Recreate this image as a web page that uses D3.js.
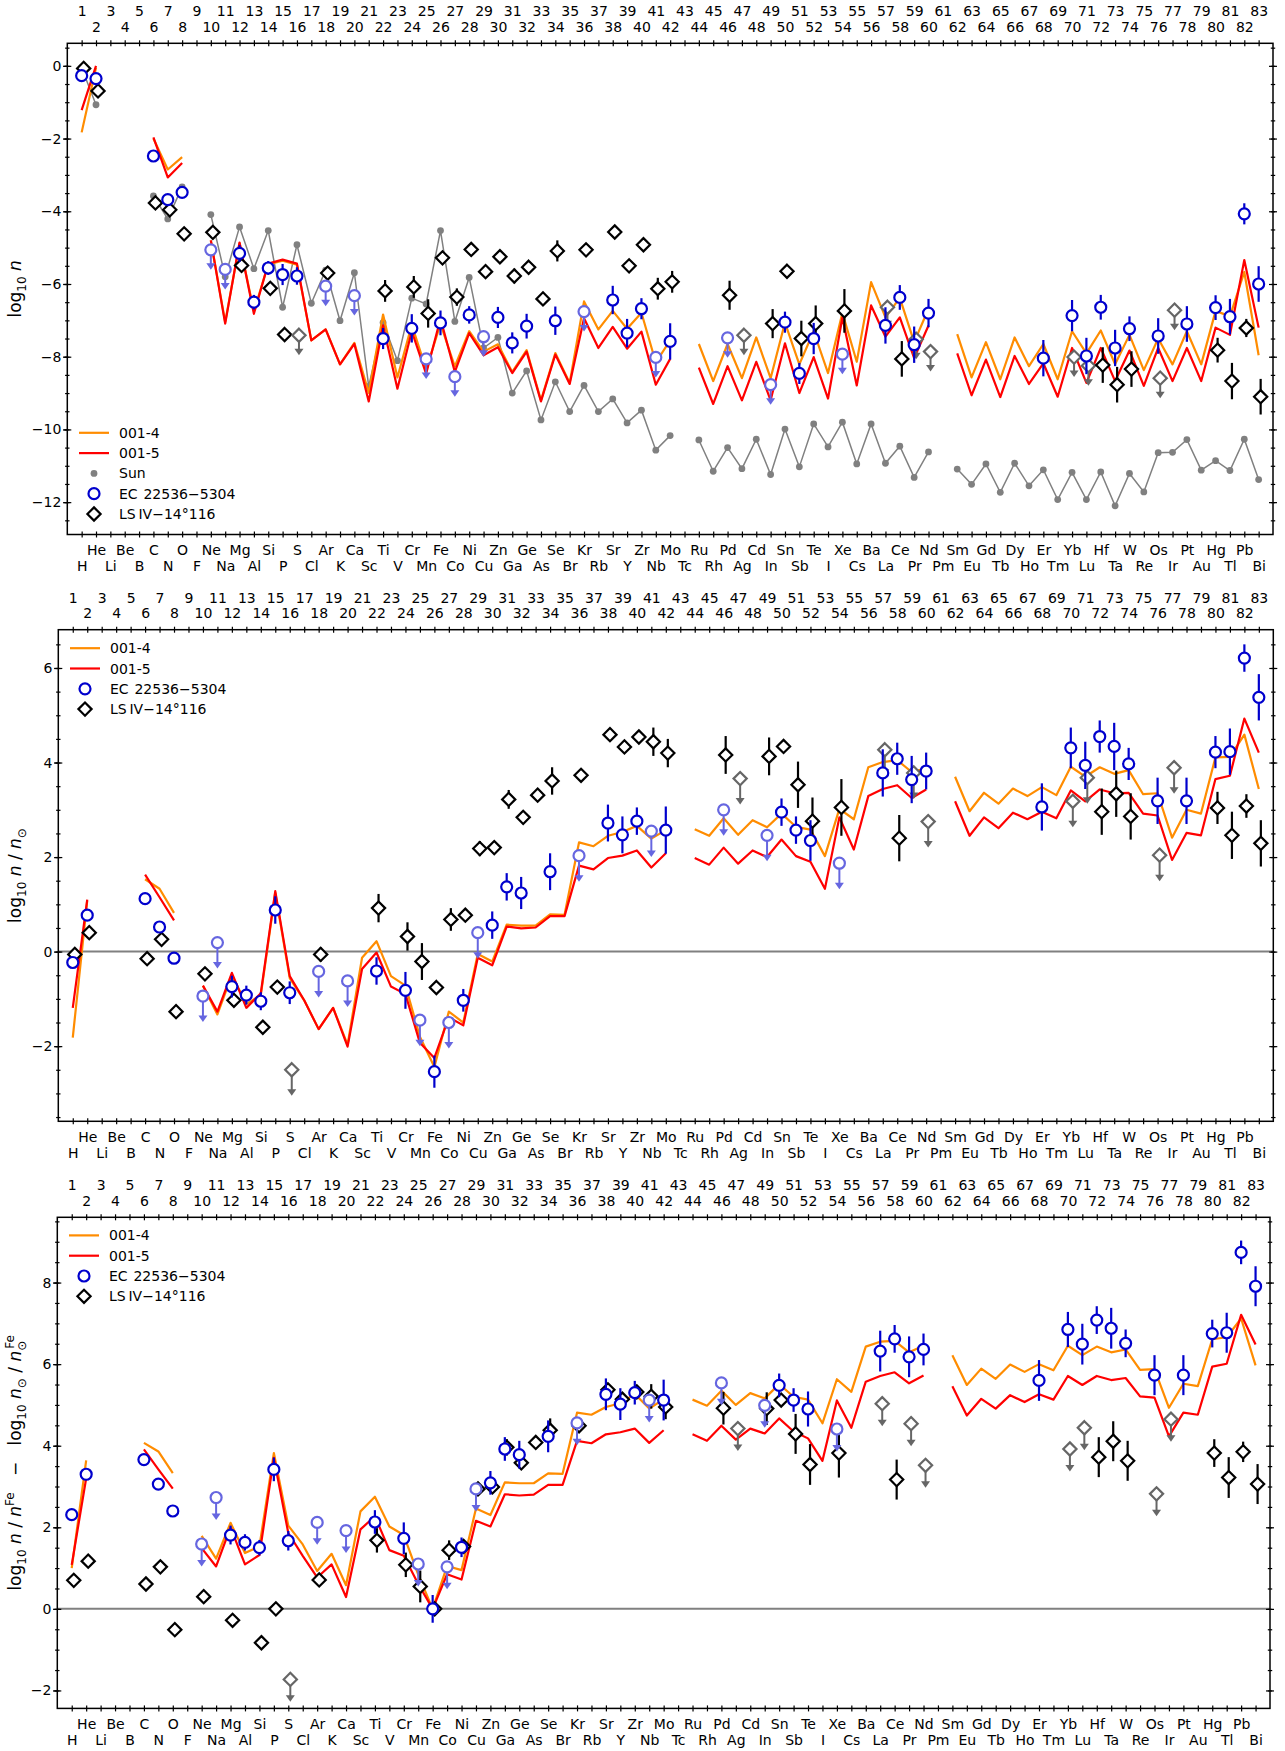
<!DOCTYPE html>
<html>
<head>
<meta charset="utf-8">
<script src="https://cdn.jsdelivr.net/npm/d3@7"></script>
<style>
body{margin:0;background:#fff;}
svg text{font-family:"DejaVu Sans",sans-serif;font-size:14px;fill:#000;}
</style>
</head>
<body>
<svg id="chart" width="1285" height="1751"></svg>
<script>
// element symbols, index = Z-1
const symbols = ["H","He","Li","Be","B","C","N","O","F","Ne","Na","Mg","Al","Si","P","S","Cl","Ar","K","Ca",
  "Sc","Ti","V","Cr","Mn","Fe","Co","Ni","Cu","Zn","Ga","Ge","As","Se","Br","Kr","Rb","Sr","Y","Zr",
  "Nb","Mo","Tc","Ru","Rh","Pd","Ag","Cd","In","Sn","Sb","Te","I","Xe","Cs","Ba","La","Ce","Pr","Nd",
  "Pm","Sm","Eu","Gd","Tb","Dy","Ho","Er","Tm","Yb","Lu","Hf","Ta","W","Re","Os","Ir","Pt","Au","Hg",
  "Tl","Pb","Bi"];

// top panel: log10 n
const sunLog = [-0.05,-1.07,null,null,null,-3.58,-4.21,-3.33,null,-4.09,
  -5.80,-4.43,-5.58,-4.53,-6.64,-4.92,-6.53,-5.62,-7.01,-5.69,
  -8.82,-7.06,-8.11,-6.39,-6.55,-4.53,-7.03,-5.82,-7.76,-7.47,
  -9.00,-8.39,-9.74,-8.69,-9.51,-8.79,-9.51,-9.16,-9.82,-9.47,
  -10.57,-10.17,null,-10.29,-11.15,-10.50,-11.08,-10.27,-11.24,-9.99,
  -11.03,-9.85,-10.48,-9.80,-10.95,-9.85,-10.93,-10.46,-11.32,-10.62,
  null,-11.09,-11.51,-10.95,-11.73,-10.93,-11.55,-11.11,-11.93,-11.18,
  -11.93,-11.17,-12.10,-11.21,-11.72,-10.64,-10.63,-10.28,-11.12,-10.86,
  -11.13,-10.27,-11.38];
const model4Log = [-1.83,-0.05,null,null,null,-2.00,-2.85,-2.51,null,-4.80,
  -7.05,-4.88,-6.75,-5.46,-5.36,-5.47,-7.55,-7.25,-8.21,-7.62,
  -9.00,-6.84,-8.57,-7.12,-8.35,-7.10,-8.27,-7.30,-7.86,-7.66,
  -8.42,-7.82,-9.20,-7.90,-8.72,-6.48,-7.25,-6.74,-7.23,-6.79,
  -8.16,-7.55,null,-7.65,-8.67,-7.65,-8.59,-7.47,-8.59,-7.06,
  -8.21,-7.30,-8.45,-6.79,-8.14,-5.95,-6.92,-6.38,-7.60,-6.68,
  null,-7.38,-8.57,-7.60,-8.62,-7.47,-8.26,-7.65,-8.62,-7.30,
  -7.91,-7.28,-8.21,-7.40,-8.37,-7.50,-8.21,-7.30,-8.21,-6.74,
  -6.89,-5.67,-7.96];
const model5Log = [-1.22,0.00,null,null,null,-1.97,-3.07,-2.67,null,-4.80,
  -7.09,-4.86,-6.82,-5.44,-5.33,-5.44,-7.55,-7.25,-8.21,-7.65,
  -9.23,-7.14,-8.88,-7.30,-8.47,-6.95,-8.42,-7.35,-7.96,-7.74,
  -8.45,-7.86,-9.23,-7.94,-8.75,-6.94,-7.76,-7.18,-7.78,-7.31,
  -8.77,-8.06,null,-8.30,-9.30,-8.26,-9.20,-8.14,-9.20,-7.63,
  -9.00,-8.01,-9.15,-6.92,-8.79,-6.59,-7.45,-6.92,-8.04,-7.14,
  null,-7.91,-9.06,-8.08,-9.11,-7.98,-8.75,-8.18,-9.10,-7.76,
  -8.72,-7.76,-8.67,-7.83,-8.80,-7.76,-8.67,-7.76,-8.67,-7.20,
  -7.40,-5.34,-7.20];

// middle panel: log10 n / n_sun
const model4Rel = [-1.82,1.08,null,null,null,1.53,1.33,0.82,null,-0.72,
  -1.33,-0.50,-1.11,-0.92,1.24,-0.56,-1.03,-1.64,-1.19,-1.97,
  -0.13,0.22,-0.52,-0.72,-1.80,-2.44,-1.27,-1.50,-0.05,-0.21,
  0.57,0.55,0.55,0.79,0.78,2.31,2.23,2.45,2.53,2.66,
  2.39,2.57,null,2.59,2.45,2.82,2.47,2.78,2.63,2.92,
  2.64,2.58,2.02,3.02,2.80,3.90,4.01,4.05,3.80,3.88,
  null,3.70,2.97,3.36,3.13,3.45,3.29,3.48,3.31,3.91,
  3.70,3.90,3.76,3.84,3.33,3.35,2.41,3.00,2.92,4.11,
  4.12,4.59,3.44];
const model5Rel = [-1.19,1.10,null,null,null,1.63,1.15,0.66,null,-0.72,
  -1.27,-0.45,-1.19,-0.88,1.28,-0.52,-1.03,-1.64,-1.19,-2.01,
  -0.37,-0.02,-0.74,-0.90,-1.93,-2.25,-1.39,-1.56,-0.13,-0.29,
  0.53,0.49,0.51,0.75,0.75,1.82,1.74,1.98,2.03,2.14,
  1.78,2.08,null,1.98,1.84,2.20,1.86,2.14,2.00,2.37,
  2.02,1.90,1.33,2.84,2.16,3.29,3.44,3.52,3.25,3.43,
  null,3.18,2.45,2.84,2.61,2.94,2.80,2.96,2.82,3.41,
  3.18,3.43,3.35,3.36,2.92,2.88,1.94,2.51,2.46,3.65,
  3.72,4.93,4.21];

// bottom panel: relative to Fe
const model4Fe = [1.00,3.64,null,null,null,4.07,3.86,3.33,null,1.79,
  1.23,2.11,1.37,1.53,3.82,2.04,1.58,0.93,1.35,0.58,
  2.39,2.75,2.02,1.81,0.84,0.00,1.05,0.95,2.46,2.30,
  3.10,3.08,3.08,3.32,3.31,4.81,4.76,4.95,5.04,5.27,
  4.91,5.14,null,5.13,4.98,5.35,5.00,5.29,5.16,5.51,
  5.20,5.13,4.55,5.63,5.32,6.43,6.55,6.57,6.29,6.45,
  null,6.22,5.49,5.89,5.64,5.99,5.81,6.00,5.85,6.45,
  6.22,6.43,6.29,6.36,5.86,5.88,4.93,5.52,5.46,6.61,
  6.66,7.12,5.97];
const model5Fe = [1.08,3.20,null,null,null,3.91,3.42,2.95,null,1.49,
  1.04,2.00,1.09,1.32,3.70,1.86,1.30,0.77,1.09,0.29,
  1.95,2.27,1.44,1.30,0.61,0.00,0.85,0.72,2.16,2.02,
  2.81,2.78,2.80,3.04,3.04,4.12,4.06,4.28,4.33,4.42,
  4.07,4.38,null,4.28,4.12,4.49,4.15,4.42,4.30,4.67,
  4.35,4.18,3.63,5.11,4.44,5.57,5.71,5.80,5.53,5.72,
  null,5.46,4.74,5.15,4.91,5.24,5.07,5.26,5.13,5.71,
  5.49,5.71,5.61,5.66,5.21,5.18,4.23,4.81,4.76,5.94,
  6.01,7.21,6.48];

// EC 22536-5304
const ecZ = [1,2,6,7,8,10,11,12,13,14, 15,16,18,20,22,24,25,26,27,28,
  29,30,31,32,34,36,38,39,40,41, 42,46,49,50,51,52,54,57,58,59,
  60,68,70,71,72,73,74,76,78,80, 81,82,83];
const ecLog = [-0.27,-0.35,-2.48,-3.68,-3.48,-5.06,-5.60,-5.16,-6.50,-5.56,
  -5.74,-5.78,-6.06,-6.32,-7.50,-7.22,-8.06,-7.07,-8.55,-6.85,
  -7.45,-6.92,-7.62,-7.16,-7.01,-6.76,-6.44,-7.35,-6.68,-8.02,
  -7.58,-7.48,-8.77,-7.05,-8.46,-7.50,-7.93,-7.14,-6.37,-7.67,
  -6.80,-8.04,-6.87,-7.98,-6.64,-7.76,-7.23,-7.43,-7.10,-6.65,
  -6.90,-4.07,-6.00];
const ecRel = [-0.23,0.77,1.12,0.52,-0.14,-0.94,0.19,-0.74,-0.92,-1.05,
  0.88,-0.87,-0.42,-0.62,-0.41,-0.82,-1.45,-2.54,-1.50,-1.03,
  0.40,0.56,1.37,1.24,1.69,2.03,2.72,2.47,2.76,2.55,
  2.57,3.00,2.46,2.95,2.57,2.35,1.87,3.78,4.08,3.64,
  3.82,3.06,4.31,3.94,4.55,4.34,3.97,3.19,3.19,4.22,
  4.23,6.21,5.38];
const ecFe = [2.31,3.30,3.66,3.06,2.40,1.59,2.73,1.81,1.63,1.50,
  3.42,1.67,2.12,1.92,2.13,1.73,1.10,0.00,1.03,1.51,
  2.94,3.09,3.92,3.78,4.23,4.56,5.26,5.02,5.30,5.12,
  5.12,5.54,4.99,5.48,5.12,4.90,4.41,6.32,6.62,6.18,
  6.36,5.60,6.85,6.49,7.08,6.88,6.51,5.73,5.73,6.75,
  6.77,8.74,7.91];
const ecErr = [0,0,0,0,0,0,0,0.23,0.2,0.19,
  0.29,0.24,0,0,0.29,0.39,0,0.34,0,0.24,
  0,0.29,0.29,0.34,0.39,0,0.39,0.39,0.29,0,
  0.5,0,0,0.29,0.29,0.43,0,0.5,0.34,0.5,
  0.39,0.5,0.43,0.5,0.34,0.5,0.34,0.49,0.49,0.34,
  0.49,0.29,0.49];
const ecUpper = [10,11,18,20,25,27,29,36,41,46,49,54];

// LS IV-14 116
const lsZ = [1,2,6,7,8,10,12,14,15,16, 18,22,24,25,26,27,28,29,30,31,
  32,33,34,36,38,39,40,41,42,46, 47,49,50,51,52,54,57,58,59,60,
  70,71,72,73,74,76,77,80,81,82, 83];
const lsLog = [-0.07,-0.69,-3.77,-3.96,-4.62,-4.58,-5.49,-6.12,-7.39,-7.41,
  -5.70,-6.19,-6.08,-6.81,-5.28,-6.36,-5.05,-5.66,-5.25,-5.78,
  -5.54,-6.41,-5.09,-5.06,-4.57,-5.50,-4.92,-6.13,-5.94,-6.31,
  -7.41,-7.09,-5.65,-7.50,-7.09,-6.74,-6.64,-8.06,-7.52,-7.86,
  -8.01,-8.25,-8.23,-8.77,-8.34,-8.59,-6.72,-7.82,-8.67,-7.21,
  -9.10];
const lsRel = [-0.06,0.40,-0.15,0.26,-1.27,-0.47,-1.03,-1.60,-0.75,-2.50,
  -0.06,0.92,0.32,-0.21,-0.76,0.68,0.77,2.18,2.20,3.22,
  2.84,3.31,3.61,3.73,4.59,4.33,4.54,4.44,4.20,4.16,
  3.66,4.13,4.34,3.53,2.76,3.05,4.27,2.40,3.78,2.75,
  3.18,3.68,2.96,3.34,2.86,2.04,3.89,3.04,2.46,3.08,
  2.29];
const lsFe = [0.70,1.17,0.61,1.03,-0.51,0.30,-0.28,-0.83,0.00,-1.73,
  0.71,1.68,1.08,0.55,0.00,1.44,1.53,2.94,2.99,3.96,
  3.58,4.08,4.38,4.49,5.37,5.14,5.32,5.21,4.95,4.92,
  4.42,4.91,5.12,4.29,3.54,3.82,5.03,3.17,4.54,3.52,
  3.92,4.44,3.72,4.11,3.63,2.82,4.65,3.82,3.22,3.85,
  3.06];
const lsErr = [0,0,0,0,0,0,0,0,0,0,
  0.15,0.3,0.3,0.39,0,0.24,0,0.16,0,0.2,
  0,0,0.29,0,0.12,0,0,0.3,0.3,0.4,
  0,0.4,0,0.49,0.5,0.6,0,0.49,0,0,
  0,0,0.49,0.49,0.49,0,0,0.34,0.5,0.25,
  0.49];
const lsUpper = [16,47,57,59,60,70,71,76,77];

const yTicksLog = [-12,-10,-8,-6,-4,-2,0];
const yTicksRel = [-2,0,2,4,6];
const yTicksFe = [-2,0,2,4,6,8];

const zs = d3.range(1, 84);
const ORANGE = "#ff8c00", RED = "#ff0000", BLUE = "#0000cd", BLUE_UP = "#6666e0", GREY_UP = "#666666";
const circlePath = d3.symbol(d3.symbolCircle).size(Math.PI * 5.5 * 5.5)();
const diamondPath = "M0,-6.6L6.6,0L0,6.6L-6.6,0Z";

const addModel = (g, x, y, vals, colour) => {
	let line = d3.line()
		.defined((d) => d.v !== null)
		.x((d) => x(d.z)).y((d) => y(d.v));
	g.append("path")
		.datum(zs.map((z) => ({z: z, v: vals[z - 1]})))
		.attr("d", line)
		.attr("fill", "none").attr("stroke", colour)
		.attr("stroke-width", 2.2).attr("stroke-linejoin", "round");
}

const addSun = (g, x, y) => {
	let data = zs.map((z) => ({z: z, v: sunLog[z - 1]}));
	let line = d3.line().defined((d) => d.v !== null).x((d) => x(d.z)).y((d) => y(d.v));
	g.append("path").datum(data).attr("d", line)
		.attr("fill", "none").attr("stroke", "#808080").attr("stroke-width", 1.5);
	g.append("g").selectAll("circle")
		.data(data.filter((d) => d.v !== null))
		.join("circle")
			.attr("cx", (d) => x(d.z)).attr("cy", (d) => y(d.v))
			.attr("r", 3.4).attr("fill", "#808080");
}

const addStars = (g, x, y, zList, vals, errs, upper, o) => {
	let data = zList.map((z, i) => ({z: z, v: vals[i], e: errs[i], up: upper.includes(z)}));
	let cx = (d) => x(d.z + o.shift);
	let layer = g.append("g");
	layer.append("g").selectAll("line")
		.data(data.filter((d) => !d.up && d.e > 0))
		.join("line")
			.attr("x1", cx).attr("x2", cx)
			.attr("y1", (d) => y(d.v + d.e)).attr("y2", (d) => y(d.v - d.e))
			.attr("stroke", o.colour).attr("stroke-width", 2.2);
	let ups = data.filter((d) => d.up);
	layer.append("g").selectAll("line")
		.data(ups)
		.join("line")
			.attr("x1", cx).attr("x2", cx)
			.attr("y1", (d) => y(d.v)).attr("y2", (d) => y(d.v - 0.55) - 4)
			.attr("stroke", o.upColour).attr("stroke-width", 2);
	layer.append("g").selectAll("path")
		.data(ups)
		.join("path")
			.attr("d", (d) => {
				let tx = cx(d), ty = y(d.v - 0.55);
				return `M${tx - 4.5},${ty - 6.5}L${tx + 4.5},${ty - 6.5}L${tx},${ty}Z`;
			})
			.attr("fill", o.upColour);
	layer.append("g").selectAll("path")
		.data(data)
		.join("path")
			.attr("transform", (d) => `translate(${cx(d)},${y(d.v)})`)
			.attr("d", o.shape)
			.attr("fill", "white")
			.attr("stroke", (d) => d.up ? o.upColour : o.colour)
			.attr("stroke-width", 2.2);
}

const tidy = (sel) => {
	sel.select(".domain").remove();
	sel.selectAll("line").attr("stroke-width", 1.2);
}

const addAxes = (g, x, y, p) => {
	let minor = d3.range(Math.ceil(p.yDomain[0] * 2) / 2, p.yDomain[1], 0.5);
	// left: labels, major and minor ticks both ways
	g.append("g").attr("transform", `translate(${p.left},0)`)
		.call(d3.axisLeft(y).tickValues(p.yTicks).tickSize(4).tickPadding(2).tickFormat(d3.format("d")))
		.call(tidy);
	[[p.left, d3.axisLeft], [p.right, d3.axisRight]].forEach(([pos, ax]) => {
		[4, -4].forEach((s) => {
			g.append("g").attr("transform", `translate(${pos},0)`)
				.call(ax(y).tickValues(p.yTicks).tickSize(s).tickFormat(""))
				.call(tidy);
		});
		[2.2, -2.2].forEach((s) => {
			g.append("g").attr("transform", `translate(${pos},0)`)
				.call(ax(y).tickValues(minor).tickSize(s).tickFormat(""))
				.call(tidy);
		});
	});
	// top and bottom: a tick at every Z
	[[p.top, d3.axisTop], [p.bottom, d3.axisBottom]].forEach(([pos, ax]) => {
		[3, -3].forEach((s) => {
			g.append("g").attr("transform", `translate(0,${pos})`)
				.call(ax(x).tickValues(zs).tickSize(s).tickFormat(""))
				.call(tidy);
		});
	});
	let odd = zs.filter((z) => z % 2 === 1), even = zs.filter((z) => z % 2 === 0);
	g.append("g").attr("transform", `translate(0,${p.top})`)
		.call(d3.axisTop(x).tickValues(odd).tickSize(0).tickPadding(27).tickFormat(d3.format("d")))
		.call(tidy);
	g.append("g").attr("transform", `translate(0,${p.top})`)
		.call(d3.axisTop(x).tickValues(even).tickSize(0).tickPadding(11.5).tickFormat(d3.format("d")))
		.call(tidy);
	g.append("g").attr("transform", `translate(0,${p.bottom})`)
		.call(d3.axisBottom(x).tickValues(even).tickSize(0).tickPadding(11).tickFormat((z) => symbols[z - 1]))
		.call(tidy);
	g.append("g").attr("transform", `translate(0,${p.bottom})`)
		.call(d3.axisBottom(x).tickValues(odd).tickSize(0).tickPadding(26.5).tickFormat((z) => symbols[z - 1]))
		.call(tidy);
	g.append("rect")
		.attr("x", p.left).attr("y", p.top)
		.attr("width", p.right - p.left).attr("height", p.bottom - p.top)
		.attr("fill", "none").attr("stroke", "black").attr("stroke-width", 1.5);
}

const addYLabel = (g, parts, cx, cy) => {
	let t = g.append("text")
		.attr("transform", `translate(${cx},${cy}) rotate(-90)`)
		.attr("text-anchor", "middle")
		.style("font-size", "17px").style("white-space", "pre");
	let shift = 0;
	parts.forEach((q) => {
		let s = t.append("tspan").text(q.t);
		let target = q.sub ? 4.8 : q.sup ? -7.5 : 0;
		s.attr("dy", target - shift);
		shift = target;
		if (q.sub || q.sup) s.style("font-size", "12px");
		if (q.it) s.style("font-style", "italic");
		if (q.dx) s.attr("dx", q.dx);
	});
}

const addLegend = (g, x0, y0, items) => {
	items.forEach((it, i) => {
		let yy = y0 + i * 20.3;
		if (it.kind === "line") {
			g.append("line").attr("x1", x0).attr("x2", x0 + 30).attr("y1", yy).attr("y2", yy)
				.attr("stroke", it.colour).attr("stroke-width", 2.2);
		} else if (it.kind === "dot") {
			g.append("circle").attr("cx", x0 + 15).attr("cy", yy).attr("r", 3.4).attr("fill", it.colour);
		} else {
			g.append("path").attr("transform", `translate(${x0 + 15},${yy})`).attr("d", it.kind)
				.attr("fill", "white").attr("stroke", it.colour).attr("stroke-width", 2.2);
		}
		g.append("text").attr("x", x0 + 40).attr("y", yy + 5).style("white-space", "pre").text(it.name);
	});
}

const legendModels = [
	{name: "001-4", kind: "line", colour: ORANGE},
	{name: "001-5", kind: "line", colour: RED}];
const legendStars = [
	{name: "EC\u200a 22536\u22125304", kind: circlePath, colour: BLUE},
	{name: "LS\u2009IV\u221214\u00b0116", kind: diamondPath, colour: "black"}];

const logLabel = [{t: "log"}, {t: "10", sub: true}, {t: " "}, {t: "n", it: true}];
const relLabel = logLabel.concat([{t: " / "}, {t: "n", it: true}, {t: "\u2299", sub: true}]);
const feLabel = logLabel.concat([{t: " / "}, {t: "n", it: true}, {t: "Fe", sup: true}, {t: "   \u2212   "}],
	logLabel, [{t: "\u2299", sub: true}, {t: " / "}, {t: "n", it: true}, {t: "\u2299", sub: true},
	{t: "Fe", sup: true, dx: -8}]);

const panels = [
	{left: 67.3, right: 1273, top: 43.3, bottom: 534.5, yDomain: [-12.89, 0.62], yTicks: yTicksLog,
		m4: model4Log, m5: model5Log, ec: ecLog, ls: lsLog, sun: true, zero: false,
		label: logLabel, legendX: 79, legendY: 432.8,
		legend: legendModels.concat([{name: "Sun", kind: "dot", colour: "#808080"}], legendStars)},
	{left: 58.3, right: 1273.3, top: 629.7, bottom: 1121.3, yDomain: [-3.59, 6.81], yTicks: yTicksRel,
		m4: model4Rel, m5: model5Rel, ec: ecRel, ls: lsRel, sun: false, zero: true,
		label: relLabel, legendX: 70, legendY: 648.2, legend: legendModels.concat(legendStars)},
	{left: 57.3, right: 1270, top: 1217.3, bottom: 1708.4, yDomain: [-2.44, 9.6], yTicks: yTicksFe,
		m4: model4Fe, m5: model5Fe, ec: ecFe, ls: lsFe, sun: false, zero: true,
		label: feLabel, legendX: 69, legendY: 1235.4, legend: legendModels.concat(legendStars)}
];

const drawPanel = (svg, p) => {
	let g = svg.append("g");
	let x = d3.scaleLinear().domain([0, 84]).range([p.left, p.right]);
	let y = d3.scaleLinear().domain(p.yDomain).range([p.bottom, p.top]);
	if (p.zero) {
		g.append("line").attr("x1", p.left).attr("x2", p.right).attr("y1", y(0)).attr("y2", y(0))
			.attr("stroke", "#808080").attr("stroke-width", 2);
	}
	if (p.sun) addSun(g, x, y);
	addModel(g, x, y, p.m4, ORANGE);
	addModel(g, x, y, p.m5, RED);
	addStars(g, x, y, lsZ, p.ls, lsErr, lsUpper, {shape: diamondPath, colour: "black", upColour: GREY_UP, shift: 0.14});
	addStars(g, x, y, ecZ, p.ec, ecErr, ecUpper, {shape: circlePath, colour: BLUE, upColour: BLUE_UP, shift: 0});
	addAxes(g, x, y, p);
	addYLabel(g, p.label, 21, (p.top + p.bottom) / 2);
	addLegend(g, p.legendX, p.legendY, p.legend);
}

const svg = d3.select("#chart");
panels.forEach((p) => drawPanel(svg, p));
</script>
</body>
</html>
